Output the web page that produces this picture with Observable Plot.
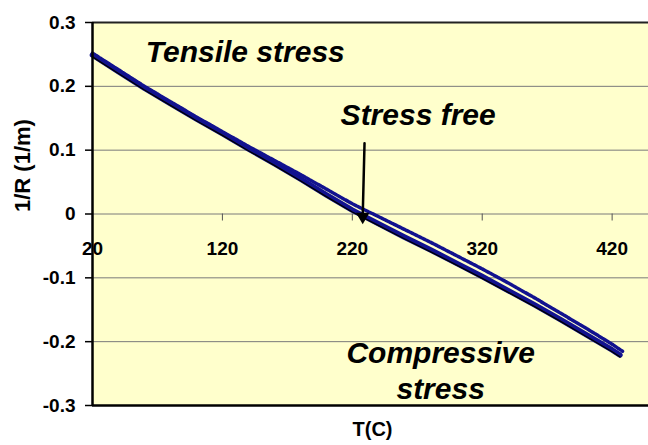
<!DOCTYPE html>
<html>
<head>
<meta charset="utf-8">
<script src="https://cdn.jsdelivr.net/npm/d3@7"></script>
<script src="https://cdn.jsdelivr.net/npm/@observablehq/plot@0.6"></script>
<style>
  html, body { margin: 0; padding: 0; background: #ffffff; }
  #chart svg { display: block; }
</style>
</head>
<body>
<div id="chart"></div>
<script>
// Temperature (C) for the measured traces
const tempLower = [20, 40, 60, 80, 100, 120, 140, 160, 180, 200, 220, 240, 260, 280, 300, 320, 340, 360, 380, 400, 420, 426];
const curvLower = [0.249, 0.223, 0.197, 0.173, 0.149, 0.126, 0.102, 0.079, 0.055, 0.030, 0.006, -0.015, -0.036, -0.056, -0.077, -0.098, -0.120, -0.142, -0.165, -0.189, -0.213, -0.221];
const tempUpper = [20, 40, 60, 80, 100, 120, 140, 160, 180, 200, 220, 240, 260, 280, 300, 320, 340, 360, 380, 400, 420, 428];
const curvUpper = [0.252, 0.226, 0.200, 0.176, 0.152, 0.129, 0.106, 0.084, 0.062, 0.039, 0.016, -0.004, -0.024, -0.044, -0.065, -0.086, -0.108, -0.131, -0.155, -0.179, -0.204, -0.215];

const xTicks = [20, 120, 220, 320, 420];
const yTicks = [-0.3, -0.2, -0.1, 0, 0.1, 0.2, 0.3];
const yGrid = [-0.2, -0.1, 0, 0.1, 0.2];

const labelText = ["Tensile stress", "Stress free", "Compressive", "stress"];
const labelT = [61, 211, 288, 288];
const labelR = [0.253, 0.154, -0.219, -0.274];
const labelAnchor = ["start", "start", "middle", "middle"];

const arrowT = [229.4, 228.0];
const arrowR = [0.111, -0.004];

const xTitle = "T(C)";
const yTitle = "1/R (1/m)";

const lower = tempLower.map((t, i) => ({T: t, r: curvLower[i]}));
const upper = tempUpper.map((t, i) => ({T: t, r: curvUpper[i]}));
const labels = labelText.map((s, i) => ({s, T: labelT[i], r: labelR[i], a: labelAnchor[i]}));

const fmt = d => d === 0 ? "0" : d.toFixed(1);
const font = "'Liberation Sans', Arial, sans-serif";

const chart = Plot.plot({
  width: 648,
  height: 445,
  marginLeft: 92,
  marginRight: 0,
  marginTop: 22,
  marginBottom: 40,
  style: {fontFamily: font, fontWeight: "bold", fontSize: "19px", color: "#000", background: "#fff"},
  x: {domain: [20, 448], axis: null},
  y: {domain: [-0.3, 0.3], axis: null},
  marks: [
    Plot.frame({fill: "#FFFFCC", stroke: null}),
    Plot.ruleY(yGrid, {stroke: "#7a7a7a", strokeWidth: 1}),
    Plot.ruleY([0.3], {stroke: "#222", strokeWidth: 2}),
    Plot.ruleX(xTicks.slice(1), {x: d => d, y1: 0, y2: 0, insetBottom: -7, stroke: "#555", strokeWidth: 1}),
    Plot.text(xTicks, {x: d => d, y: 0, dy: 35, text: d => String(d), fontSize: 19, fontWeight: "bold"}),
    Plot.axisY(yTicks, {tickSize: 7, tickPadding: 10, tickFormat: fmt, stroke: "#000", strokeWidth: 1.5, fontSize: 19, fontWeight: "bold", label: null}),
    Plot.line(lower, {x: "T", y: "r", stroke: "#12128f", strokeWidth: 5.5}),
    Plot.line(upper, {x: "T", y: "r", stroke: "#12128f", strokeWidth: 3.5, strokeDasharray: "3 1.5"}),
    Plot.line(lower, {x: "T", y: "r", dy: 1.8, stroke: "#000", strokeWidth: 1.3}),
    Plot.line(arrowT.map((t, i) => ({T: t, r: arrowR[i]})), {x: "T", y: "r", stroke: "#000", strokeWidth: 2.5}),
    Plot.dot([{T: arrowT[1], r: arrowR[1]}], {x: "T", y: "r", symbol: "triangle", rotate: 180, r: 5, fill: "#000", stroke: null}),
    Plot.text(labels, {x: "T", y: "r", text: "s", textAnchor: "start", filter: d => d.a === "start", fontSize: 30, fontWeight: "bold", fontStyle: "italic", fill: "#000"}),
    Plot.text(labels, {x: "T", y: "r", text: "s", textAnchor: "middle", filter: d => d.a === "middle", fontSize: 30, fontWeight: "bold", fontStyle: "italic", fill: "#000"}),
    Plot.ruleX([20], {stroke: "#000", strokeWidth: 2.5}),
    Plot.ruleY([-0.3], {stroke: "#000", strokeWidth: 2.5}),
    Plot.text([xTitle], {frameAnchor: "bottom", dx: 2, dy: 30, text: d => d, fontSize: 20, fontWeight: "bold"}),
    Plot.text([yTitle], {frameAnchor: "left", dx: -70, dy: -2, rotate: -90, text: d => d, fontSize: 22, fontWeight: "bold"})
  ]
});
document.getElementById("chart").appendChild(chart);
</script>
</body>
</html>
